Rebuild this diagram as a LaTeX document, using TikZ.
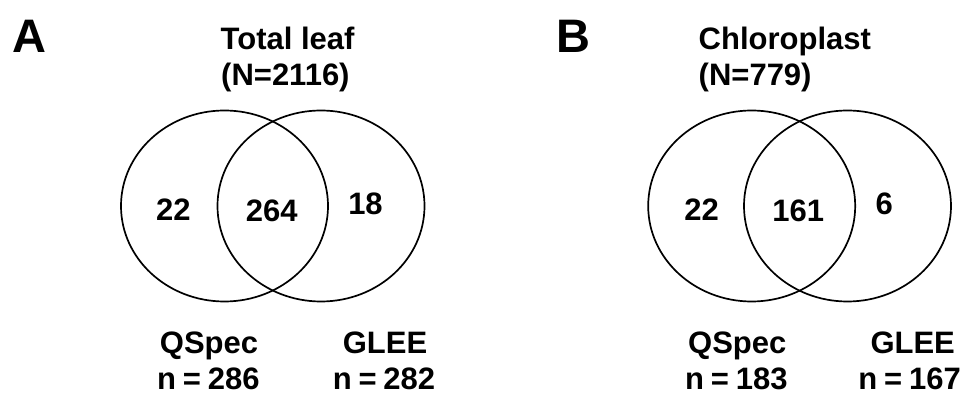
\documentclass[tikz,border=0pt]{standalone}
\usepackage{fontspec}
\setmainfont{Liberation Sans}
\usetikzlibrary{shapes.geometric}
\newcommand{\ncount}[1]{n\hspace{0.22em}=\hspace{0.22em}#1}
\begin{document}
\begin{tikzpicture}[x=1pt,y=-1pt,
  venn/.style={draw=black,line width=1.7pt,ellipse,inner sep=0pt,minimum width=207pt,minimum height=191pt},
  lbl/.style={inner sep=0pt,font=\fontsize{31}{36}\selectfont\bfseries},
  panel/.style={inner sep=0pt,font=\fontsize{47}{50}\selectfont\bfseries}]
\useasboundingbox (0,0) rectangle (962,395);
% Panel A
\node[panel,anchor=base west] (pA) at (12,53) {A};
\node[lbl,anchor=base west] (tA1) at (220.5,50) {Total leaf};
\node[lbl,anchor=base west] (tA2) at (221,86) {(N=2116)};
\node[venn] (eA1) at (224.5,206) {};
\node[venn] (eA2) at (321,206) {};
\node[lbl,anchor=base] (a22) at (173.4,221) {22};
\node[lbl,anchor=base] (a264) at (271.8,221.5) {264};
\node[lbl,anchor=base] (a18) at (365.5,214.5) {18};
\node[lbl,anchor=base] (aq) at (209,354) {QSpec};
\node[lbl,anchor=base] (aqn) at (208.3,390) {\ncount{286}};
\node[lbl,anchor=base] (ag) at (385,354) {GLEE};
\node[lbl,anchor=base] (agn) at (384,390) {\ncount{282}};
% Panel B
\node[panel,anchor=base west] (pB) at (556,53) {B};
\node[lbl,anchor=base west] (tB1) at (698.5,50) {Chloroplast};
\node[lbl,anchor=base west] (tB2) at (698.5,86) {(N=779)};
\node[venn] (eB1) at (751.7,206) {};
\node[venn] (eB2) at (847.5,206) {};
\node[lbl,anchor=base] (b22) at (701.7,221) {22};
\node[lbl,anchor=base] (b161) at (798.3,221.5) {161};
\node[lbl,anchor=base] (b6) at (884.3,214.5) {6};
\node[lbl,anchor=base] (bq) at (737.3,354) {QSpec};
\node[lbl,anchor=base] (bqn) at (736.3,390) {\ncount{183}};
\node[lbl,anchor=base] (bg) at (912.7,354) {GLEE};
\node[lbl,anchor=base east] (bgn) at (961,390) {\ncount{167}};
\end{tikzpicture}
\end{document}
